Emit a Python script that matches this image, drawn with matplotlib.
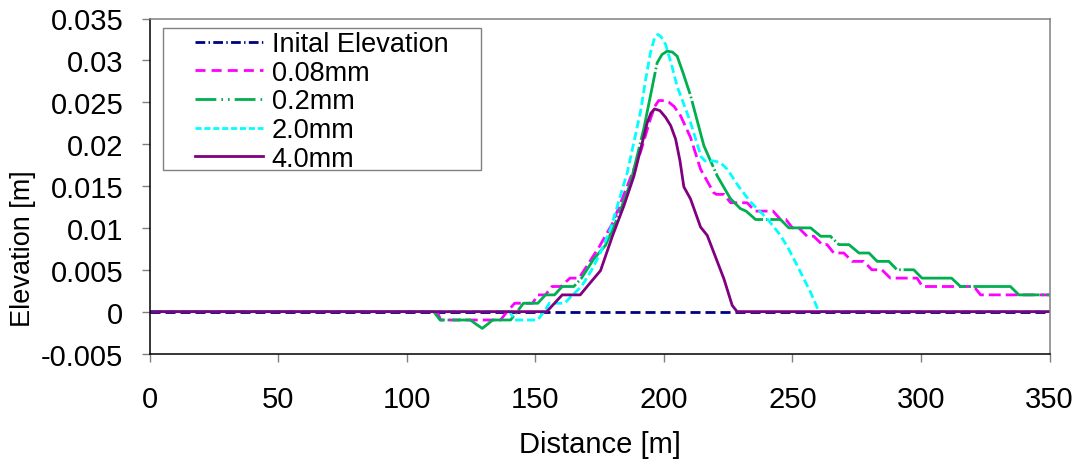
import numpy as np
import matplotlib
matplotlib.use("Agg")
import matplotlib.pyplot as plt
from matplotlib.patches import Rectangle
from matplotlib.lines import Line2D

plt.rcParams['font.family'] = ['Liberation Sans', 'DejaVu Sans']

# data (distance [m], elevation [m])
init_x = [0, 350]
init_y = [0, 0]

mm008_x = [0, 111.9, 113.2, 136.5, 139.1, 142, 149, 151, 154, 156.5, 160, 163.5, 167,
           170.2, 175, 180, 185.8, 190.9, 194.8, 196.5, 198, 200, 202, 204, 206.5, 210.4,
           214.3, 219.4, 220.5, 223.4, 226, 232.4, 235.5, 242.5, 245.4, 247.5, 250, 252.5,
           255.7, 258.3, 261.6, 263.5, 266.1, 270, 273.3, 277.8, 280.9, 284.8, 288.1, 298.5,
           300.6, 320.6, 323.2, 350]
mm008_y = [0, 0, -0.001, -0.001, 0, 0.001, 0.001, 0.002, 0.002, 0.003, 0.003, 0.004, 0.004,
           0.0055, 0.0078, 0.0105, 0.015, 0.019, 0.023, 0.0245, 0.0252, 0.0252, 0.025, 0.0245, 0.0234, 0.0208,
           0.017, 0.0142, 0.014, 0.014, 0.013, 0.013, 0.012, 0.012, 0.011, 0.011, 0.010, 0.010,
           0.009, 0.009, 0.008, 0.008, 0.007, 0.007, 0.006, 0.006, 0.005, 0.005, 0.004, 0.004,
           0.003, 0.003, 0.002, 0.002]

mm02_x = [0, 110.5, 113, 124.8, 127, 129.4, 131.5, 133.4, 140.4, 143, 145.4, 151, 154, 157.5,
          160.5, 165, 168, 172.8, 177.3, 181.9, 187.1, 192.2, 197.4, 199.3, 201.3, 203.3, 205.2,
          207.5, 210.4, 215.6, 220.8, 225.9, 229.8, 232, 235.7, 245.4, 248.6, 257.1, 261, 264.8,
          268.1, 272, 275.9, 279.8, 283, 287.5, 290.7, 297.2, 300.4, 311.9, 315.4, 334.8, 338.1, 350]
mm02_y = [0, 0, -0.001, -0.001, -0.0015, -0.002, -0.0015, -0.001, -0.001, 0, 0.001, 0.001, 0.002, 0.002,
          0.003, 0.003, 0.004, 0.0063, 0.0079, 0.0111, 0.0154, 0.0218, 0.0297, 0.0307, 0.0311, 0.031, 0.0305,
          0.0285, 0.0258, 0.0198, 0.0162, 0.0135, 0.0123, 0.012, 0.011, 0.011, 0.010, 0.010, 0.009, 0.009,
          0.008, 0.008, 0.007, 0.007, 0.006, 0.006, 0.005, 0.005, 0.004, 0.004, 0.003, 0.003, 0.002, 0.002]

mm20_x = [0, 140, 142, 150.9, 153.5, 155.5, 161.5, 164.5, 168, 172, 175, 179.3, 185.8, 190.9,
          193, 194.8, 196.5, 197.7, 199, 200.7, 203, 205.2, 210.4, 214.5, 216, 219.4, 222, 224.7,
          229, 233.7, 240.2, 245.4, 248.5, 251.9, 257.1, 260.3, 350]
mm20_y = [0, 0, -0.001, -0.001, 0, 0.001, 0.001, 0.002, 0.003, 0.005, 0.0068, 0.0099, 0.0166, 0.0238,
          0.0278, 0.0309, 0.0328, 0.0331, 0.0328, 0.0319, 0.0295, 0.0269, 0.0226, 0.0185, 0.018, 0.018,
          0.0178, 0.017, 0.015, 0.0131, 0.0111, 0.0091, 0.0075, 0.0055, 0.0023, 0, 0]

mm40_x = [0, 154.5, 160.5, 167.5, 171, 175.4, 180, 184.5, 188.4, 193.6, 195, 196.4, 198.5, 200.7,
          202.7, 204.6, 206.3, 207.8, 210.4, 214.3, 216.9, 223.4, 226.6, 228.5, 350]
mm40_y = [0, 0, 0.002, 0.002, 0.0033, 0.0049, 0.009, 0.01265, 0.0162, 0.0226, 0.0237, 0.0242, 0.024,
          0.0232, 0.0222, 0.0206, 0.018, 0.0149, 0.01345, 0.0101, 0.0091, 0.0039, 0.00075, 0, 0]

labels = ['Inital Elevation', '0.08mm', '0.2mm', '2.0mm', '4.0mm']
colors = ['#000080', '#FF00FF', '#00B050', '#00FFFF', '#800080']

x_ticks = [0, 50, 100, 150, 200, 250, 300, 350]
y_ticks = [-0.005, 0, 0.005, 0.01, 0.015, 0.02, 0.025, 0.03, 0.035]
y_tick_labels = ['-0.005', '0', '0.005', '0.01', '0.015', '0.02', '0.025', '0.03', '0.035']

fig = plt.figure(figsize=(10.78, 4.6), dpi=100)
ax = fig.add_axes([149.5 / 1078, 1 - 354.5 / 460, 900 / 1078, 335 / 460])

lw = 2
# dash patterns on the curves (Excel restarts them per segment, so they look longer)
line_dashes = [(3.6, 1.8), (4.3, 1.8), (25, 1, 0.6, 1), (2.9, 1.4), None]
# dash patterns shown in the legend
leg_dashes = [(3.5, 1.2, 0.5, 1.2), (3.6, 2.2), (7.5, 1.8, 0.6, 1.8, 0.6, 1.8), (2.2, 1.0), None]

series = [(init_x, init_y), (mm008_x, mm008_y), (mm02_x, mm02_y), (mm20_x, mm20_y), (mm40_x, mm40_y)]
for (xs, ys), c, d in zip(series, colors, line_dashes):
    if d is None:
        ax.plot(xs, ys, color=c, lw=lw)
    else:
        ax.plot(xs, ys, color=c, lw=lw, dashes=d)

ax.set_xlim(0, 350)
ax.set_ylim(-0.005, 0.035)
ax.set_xticks(x_ticks)
ax.set_xticklabels([str(t) for t in x_ticks])
ax.set_yticks(y_ticks)
ax.set_yticklabels(y_tick_labels)
ax.tick_params(axis='both', direction='out', length=5.8, width=1, color='#808080',
               labelsize=21, labelcolor='black')
ax.tick_params(axis='y', pad=13)
ax.tick_params(axis='x', pad=17)

for side in ['left', 'bottom']:
    ax.spines[side].set_color('black')
    ax.spines[side].set_linewidth(1.1)
for side in ['top', 'right']:
    ax.spines[side].set_color('#808080')
    ax.spines[side].set_linewidth(1.1)

fig.text(10 / 1078, 1 - 249 / 460, 'Elevation [m]', rotation=90, ha='left', va='center', fontsize=19.5)
fig.text(600 / 1078, 1 - 453 / 460, 'Distance [m]', ha='center', va='baseline', fontsize=21)

# legend box drawn by hand, entries placed inside it
ax.add_patch(Rectangle((13.5 / 900, (354.5 - 171) / 335), 318 / 900, 142 / 335,
                       transform=ax.transAxes, facecolor='white', edgecolor='#808080',
                       lw=1, zorder=4))
handles = []
for c, d in zip(colors, leg_dashes):
    if d is None:
        handles.append(Line2D([], [], color=c, lw=lw))
    else:
        handles.append(Line2D([], [], color=c, lw=lw, dashes=d))
leg = ax.legend(handles, labels, loc='upper left',
                bbox_to_anchor=((195 - 149.5) / 900, (354.5 - 32) / 335),
                frameon=False, borderpad=0, borderaxespad=0, fontsize=19.5,
                handlelength=2.5, handletextpad=0.33, labelspacing=0.1)
leg.set_zorder(5)

fig.savefig('out.png', dpi=100)
